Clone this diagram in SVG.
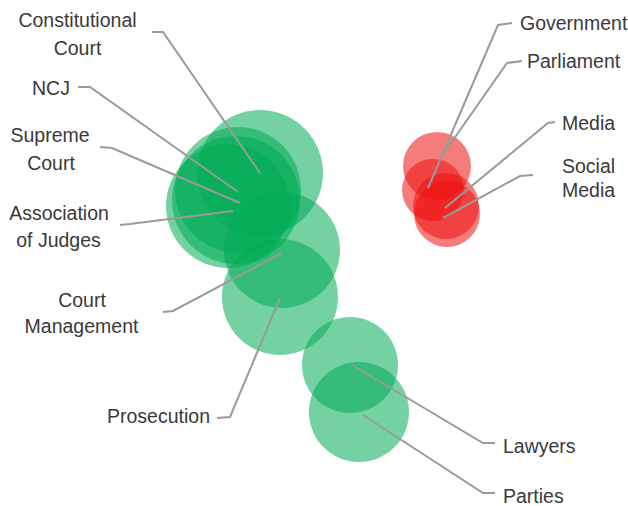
<svg xmlns="http://www.w3.org/2000/svg" width="628" height="506" viewBox="0 0 628 506">
<style>
.g{fill:#00ab55;fill-opacity:0.55}
.r{fill:#ee1111;fill-opacity:0.55}
text{font-family:"Liberation Sans",Arial,sans-serif;font-size:19.5px;fill:#3a3a3a}
.m{text-anchor:middle}
.e{text-anchor:end}
#connectors polyline{fill:none;stroke:#9a9a9a;stroke-width:2}
</style>
<rect width="628" height="506" fill="#ffffff"/>
<g id="constitutional-court"><circle class="g" cx="260" cy="173" r="63"/><text class="m" x="77.5" y="27">Constitutional</text><text class="m" x="77.5" y="55">Court</text></g>
<g id="ncj"><circle class="g" cx="238" cy="190" r="63"/><text x="32" y="95">NCJ</text></g>
<g id="supreme-court"><circle class="g" cx="236" cy="200" r="64"/><text class="m" x="50" y="142">Supreme</text><text class="m" x="51" y="170">Court</text></g>
<g id="association-of-judges"><circle class="g" cx="228" cy="206" r="62"/><text class="m" x="59" y="220">Association</text><text class="m" x="58.5" y="247">of Judges</text></g>
<g id="court-management"><circle class="g" cx="282" cy="250" r="58"/><text class="m" x="82" y="307">Court</text><text class="m" x="81.5" y="333">Management</text></g>
<g id="prosecution"><circle class="g" cx="280" cy="297" r="58"/><text class="e" x="210" y="423">Prosecution</text></g>
<g id="lawyers"><circle class="g" cx="350" cy="365" r="48"/><text x="503" y="453">Lawyers</text></g>
<g id="parties"><circle class="g" cx="359" cy="412" r="50"/><text x="503" y="503">Parties</text></g>
<g id="government"><circle class="r" cx="437" cy="166" r="34"/><text x="520" y="30">Government</text></g>
<g id="parliament"><circle class="r" cx="433" cy="190" r="31"/><text x="527" y="68">Parliament</text></g>
<g id="media"><circle class="r" cx="446" cy="206" r="33"/><text x="562" y="130">Media</text></g>
<g id="social-media"><circle class="r" cx="447" cy="214" r="33"/><text x="562" y="173">Social</text><text x="562" y="197">Media</text></g>
<g id="connectors">
<polyline points="152,32 163,32 260,173"/>
<polyline points="78,87 90,87 238,192"/>
<polyline points="100,147 112,148 240,203"/>
<polyline points="120,225 130,224 233,211"/>
<polyline points="163,312 173,311 282,253"/>
<polyline points="217,418 230,417 280,298"/>
<polyline points="495,443 483,443 352,365"/>
<polyline points="495,493 483,493 363,415"/>
<polyline points="512,23 498,25 428,188"/>
<polyline points="522,61 507,63 444,153"/>
<polyline points="555,122 548,123 445,208"/>
<polyline points="533,175 520,176 443,218"/>
</g>
</svg>
